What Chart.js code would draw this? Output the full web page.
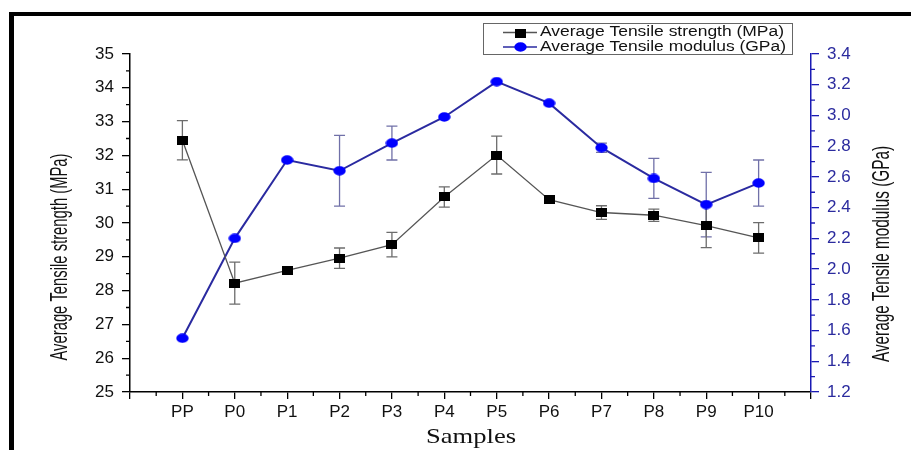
<!DOCTYPE html>
<html><head><meta charset="utf-8">
<script src="https://cdn.jsdelivr.net/npm/chart.js@4.4.1/dist/chart.umd.min.js"></script>
<style>html,body{margin:0;padding:0;background:#fff;overflow:hidden}#wrap{position:relative;width:911px;height:450px}</style>
</head><body><div id="wrap"><canvas id="c" width="911" height="450"></canvas></div>
<script>
// ---- data ----
const categories = ['PP','P0','P1','P2','P3','P4','P5','P6','P7','P8','P9','P10'];
const strength    = [32.45, 28.22, 28.60, 28.96, 29.36, 30.77, 32.01, 30.69, 30.31, 30.23, 29.92, 29.56];
const strengthErr = [0.58, 0.62, 0, 0.30, 0.36, 0.30, 0.56, 0, 0.20, 0.18, 0.65, 0.45];
const modulus     = [1.55, 2.20, 2.71, 2.64, 2.82, 2.99, 3.22, 3.08, 2.79, 2.59, 2.42, 2.56];
const modulusErr  = [0, 0, 0, 0.23, 0.11, 0, 0, 0, 0.03, 0.13, 0.21, 0.15];
const leftTickLabels  = ['25','26','27','28','29','30','31','32','33','34','35'];
const rightTickLabels = ['1.2','1.4','1.6','1.8','2.0','2.2','2.4','2.6','2.8','3.0','3.2','3.4'];
const seriesNames = ['Average Tensile strength (MPa)', 'Average Tensile modulus (GPa)'];
const xTitle = 'Samples';
const leftTitle = 'Average Tensile strength (MPa)';
const rightTitle = 'Average Tensile modulus (GPa)';

// ---- styles ----
const BLACK_LINE = '#555555', BLUE_LINE = '#2a2aa0', BLUE_MARK = '#0000ff';
const BLACK_ERR = '#6c6c6c', BLUE_ERR = '#7070a8', BLUE_AXIS = '#1a1ab4', BLUE_TEXT = '#2b2b9e';
const SANS = "'Liberation Sans', Arial, sans-serif";

function makeMarker(kind, w, h, color) {
  const c = document.createElement('canvas');
  c.width = w; c.height = h;
  const g = c.getContext('2d');
  g.fillStyle = color;
  if (kind === 'rect') g.fillRect(0, 0, w, h);
  else { g.beginPath(); g.ellipse(w/2, h/2, w/2 - 0.3, h/2 - 0.3, 0, 0, Math.PI*2); g.fill(); }
  return c;
}
const sqImg = makeMarker('rect', 11, 9, '#000');
const ciImg = makeMarker('ellipse', 13, 10, BLUE_MARK);

function stretchedText(ctx, text, x, y, font, targetW, rot, color, align) {
  ctx.save();
  ctx.font = font;
  ctx.fillStyle = color;
  const w = ctx.measureText(text).width;
  const sx = targetW / w;
  ctx.translate(x, y);
  if (rot) ctx.rotate(rot);
  ctx.scale(sx, 1);
  ctx.textAlign = align || 'center';
  ctx.textBaseline = 'middle';
  ctx.fillText(text, 0, 0);
  ctx.restore();
}

const decor = {
  id: 'decor',
  beforeDraw(chart) {
    const ctx = chart.ctx;
    ctx.save();
    ctx.fillStyle = '#fff';
    ctx.fillRect(0, 0, chart.width, chart.height);
    ctx.fillStyle = '#000';
    ctx.fillRect(9, 12, 902, 4);
    ctx.fillRect(9, 12, 5, 438);
    ctx.restore();
  },
  beforeDatasetsDraw(chart) {
    const ctx = chart.ctx, xs = chart.scales.x;
    const draw = (vals, errs, ys, color) => {
      ctx.save();
      ctx.strokeStyle = color; ctx.lineWidth = 1.3;
      vals.forEach((v, i) => {
        if (!errs[i]) return;
        const px = xs.getPixelForValue(i);
        const y1 = ys.getPixelForValue(v + errs[i]);
        const y2 = ys.getPixelForValue(v - errs[i]);
        ctx.beginPath();
        ctx.moveTo(px, y1); ctx.lineTo(px, y2);
        ctx.moveTo(px - 5.5, y1); ctx.lineTo(px + 5.5, y1);
        ctx.moveTo(px - 5.5, y2); ctx.lineTo(px + 5.5, y2);
        ctx.stroke();
      });
      ctx.restore();
    };
    draw(modulus, modulusErr, chart.scales.y2, BLUE_ERR);
    draw(strength, strengthErr, chart.scales.y, BLACK_ERR);
  },
  afterDraw(chart) {
    const ctx = chart.ctx, xs = chart.scales.x, yl = chart.scales.y, yr = chart.scales.y2;
    const ca = chart.chartArea;
    ctx.save();
    ctx.lineWidth = 1.3;
    // minor ticks
    ctx.strokeStyle = '#000';
    ctx.beginPath();
    for (let v = 25.5; v < 35; v += 1) { const p = yl.getPixelForValue(v); ctx.moveTo(ca.left - 4, p); ctx.lineTo(ca.left, p); }
    for (let v = -0.5; v < 12; v += 1) { const p = xs.getPixelForValue(v); ctx.moveTo(p, ca.bottom); ctx.lineTo(p, ca.bottom + 4); }
    ctx.stroke();
    ctx.strokeStyle = BLUE_AXIS;
    ctx.beginPath();
    for (let k = 0; k < 11; k++) { const v = 1.3 + 0.2 * k; const p = yr.getPixelForValue(v); ctx.moveTo(ca.right, p); ctx.lineTo(ca.right + 4, p); }
    ctx.stroke();
    ctx.restore();

    // axis titles
    stretchedText(ctx, leftTitle, 60, 257, '24px ' + SANS, 207, -Math.PI/2, '#111');
    stretchedText(ctx, rightTitle, 882, 254, '24px ' + SANS, 216, -Math.PI/2, '#111');
    stretchedText(ctx, xTitle, 471, 437, "21px 'Liberation Serif', 'Times New Roman', serif", 90, 0, '#111');

    // legend
    ctx.save();
    ctx.strokeStyle = '#666'; ctx.lineWidth = 1;
    ctx.strokeRect(483.5, 23.5, 309, 31);
    const rows = [32.5, 47];
    ctx.strokeStyle = BLACK_LINE; ctx.lineWidth = 1.4;
    ctx.beginPath(); ctx.moveTo(503, rows[0]); ctx.lineTo(537, rows[0]); ctx.stroke();
    ctx.drawImage(sqImg, 520 - 5, rows[0] - 4);
    ctx.strokeStyle = BLUE_LINE; ctx.lineWidth = 1.6;
    ctx.beginPath(); ctx.moveTo(503, rows[1]); ctx.lineTo(537, rows[1]); ctx.stroke();
    ctx.drawImage(ciImg, 520 - 6, rows[1] - 5);
    ctx.restore();
    stretchedText(ctx, seriesNames[0], 540, rows[0], '14px ' + SANS, 244, 0, '#111', 'left');
    stretchedText(ctx, seriesNames[1], 540, rows[1], '14px ' + SANS, 246, 0, '#111', 'left');
  }
};

new Chart(document.getElementById('c'), {
  type: 'line',
  data: {
    datasets: [
      {
        label: seriesNames[0],
        data: categories.map((c, i) => ({ x: i, y: strength[i] })),
        yAxisID: 'y',
        borderColor: BLACK_LINE, borderWidth: 1.3,
        pointStyle: sqImg, pointRadius: 6,
        tension: 0, fill: false
      },
      {
        label: seriesNames[1],
        data: categories.map((c, i) => ({ x: i, y: modulus[i] })),
        yAxisID: 'y2',
        borderColor: BLUE_LINE, borderWidth: 2,
        pointStyle: ciImg, pointRadius: 6,
        tension: 0, fill: false
      }
    ]
  },
  options: {
    responsive: false, animation: false, devicePixelRatio: 1,
    layout: { padding: { top: 54, left: 0, right: 0, bottom: 0 } },
    plugins: { legend: { display: false }, tooltip: { enabled: false } },
    scales: {
      x: {
        type: 'linear', min: -1, max: 12,
        afterFit: s => { s.height = 58; },
        grid: { drawOnChartArea: false, tickLength: 7, color: '#000', lineWidth: 1.3 },
        border: { color: '#000', width: 1.5 },
        ticks: {
          stepSize: 1, autoSkip: false, maxRotation: 0, padding: 3,
          color: '#111', font: { family: SANS, size: 17 },
          callback: v => (Number.isInteger(v) && v >= 0 && v < categories.length) ? categories[v] : ''
        }
      },
      y: {
        position: 'left', min: 25, max: 35,
        afterFit: s => { s.width = 130; },
        grid: { drawOnChartArea: false, tickLength: 8, color: '#000', lineWidth: 1.3 },
        border: { color: '#000', width: 1.5 },
        ticks: {
          stepSize: 1, padding: 8, color: '#111', font: { family: SANS, size: 17 },
          callback: v => { const i = Math.round(v - 25); return leftTickLabels[i] ?? ''; }
        }
      },
      y2: {
        position: 'right', min: 1.2, max: 3.4,
        afterFit: s => { s.width = 100; },
        grid: { drawOnChartArea: false, tickLength: 8, color: BLUE_AXIS, lineWidth: 1.3 },
        border: { color: BLUE_AXIS, width: 1.5 },
        ticks: {
          stepSize: 0.2, padding: 8, color: BLUE_TEXT, font: { family: SANS, size: 17 },
          callback: v => { const i = Math.round((v - 1.2) / 0.2); return rightTickLabels[i] ?? ''; }
        }
      }
    }
  },
  plugins: [decor]
});
</script>
</body></html>
